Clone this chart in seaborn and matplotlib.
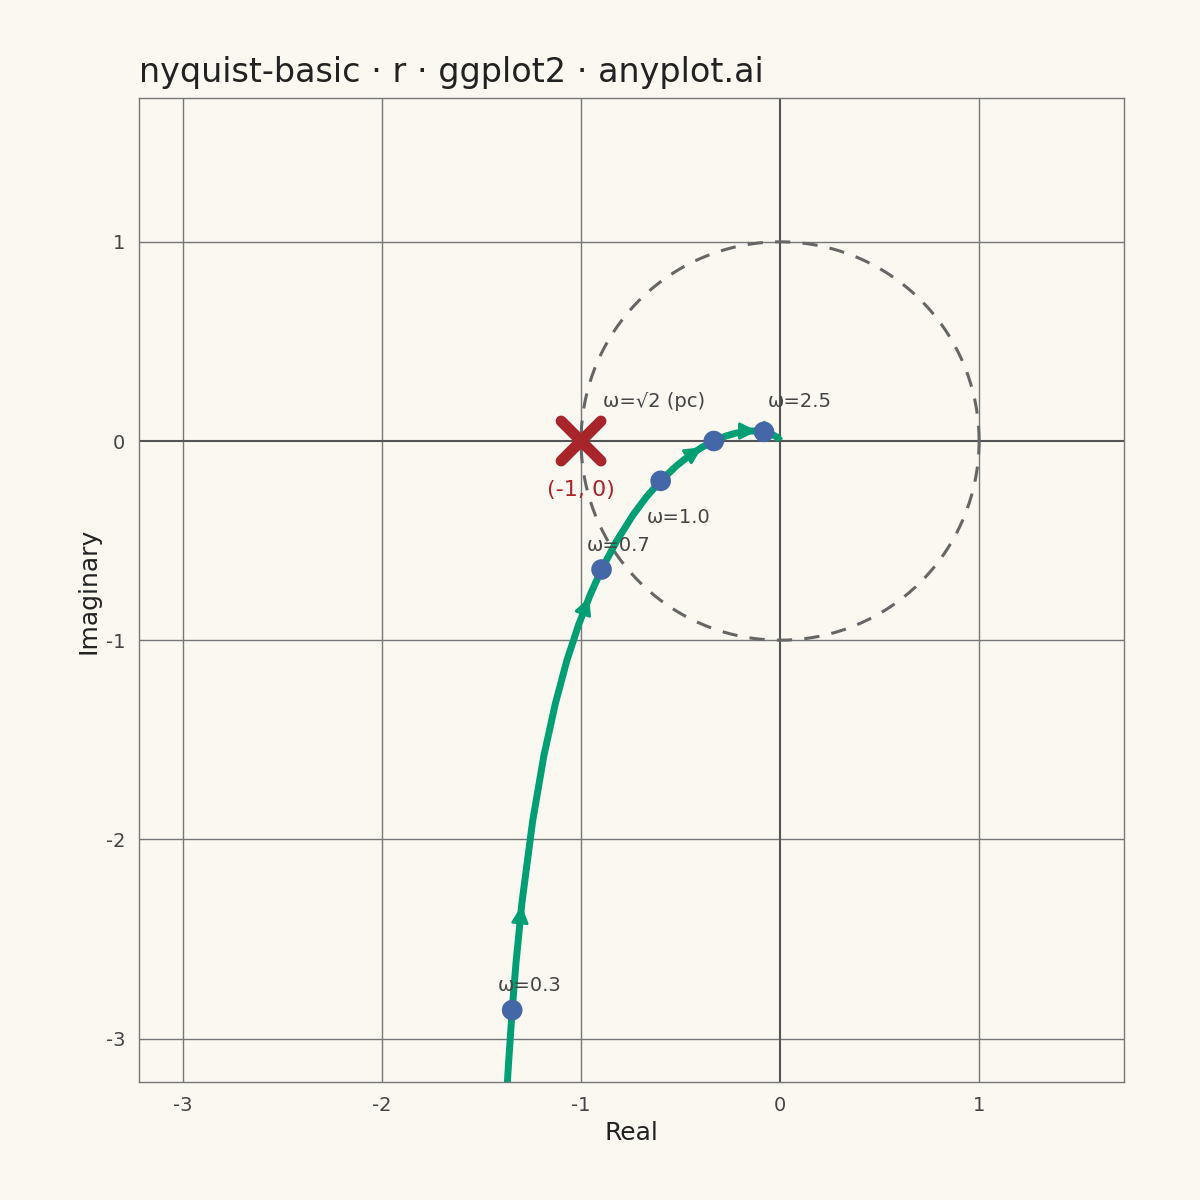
import numpy as np
import matplotlib.pyplot as plt
import seaborn as sns

# curve points (real, imaginary), low to high frequency
re_vals = [-1.373, -1.364, -1.346, -1.327, -1.297, -1.243, -1.187, -1.129, -1.071, -1.012,
           -0.954, -0.897, -0.820, -0.738, -0.671, -0.600, -0.521, -0.452, -0.392, -0.333,
           -0.275, -0.224, -0.150, -0.116, -0.081, -0.046, -0.018, -0.004, -0.001]
im_vals = [-3.267, -3.121, -2.857, -2.622, -2.318, -1.907, -1.581, -1.318, -1.101, -0.922,
           -0.772, -0.645, -0.500, -0.370, -0.280, -0.200, -0.125, -0.070, -0.031, 0.000,
           0.024, 0.039, 0.050, 0.050, 0.046, 0.036, 0.021, 0.008, 0.002]

# marked frequencies
mark_re = [-1.346, -0.897, -0.600, -0.333, -0.081]
mark_im = [-2.857, -0.645, -0.200, 0.000, 0.046]
mark_lab = ["ω=0.3", "ω=0.7", "ω=1.0", "ω=√2 (pc)", "ω=2.5"]
lab_xy = [(-1.42, -2.76), (-0.97, -0.55), (-0.67, -0.41), (-0.89, 0.17), (-0.06, 0.17)]

arrow_idx = [4, 10, 18, 23, 26]

bg = "#FAF8F1"
sns.set_theme(style="white")
plt.rcParams['font.family'] = ['DejaVu Sans']
plt.rcParams['axes.unicode_minus'] = False

fig = plt.figure(figsize=(12, 12), dpi=100, facecolor=bg)
ax = fig.add_axes([0.116, 0.098, 0.821, 0.82])
ax.set_facecolor(bg)

for v in [-3, -2, -1, 1]:
    ax.axvline(v, color="#777777", lw=1, zorder=0)
    ax.axhline(v, color="#777777", lw=1, zorder=0)
ax.axvline(0, color="#555555", lw=1.5, zorder=0)
ax.axhline(0, color="#555555", lw=1.5, zorder=0)

t = np.linspace(0, 2 * np.pi, 300)
ax.plot(np.cos(t), np.sin(t), ls=(0, (5, 4)), color="#666666", lw=2.2, zorder=1)

sns.lineplot(x=re_vals, y=im_vals, sort=False, ax=ax, color="#009E73", lw=5, zorder=2,
             solid_joinstyle="round", solid_capstyle="butt")
for i in arrow_idx:
    ax.annotate("", xy=(re_vals[i], im_vals[i]),
                xytext=(re_vals[i - 1] * 0.3 + re_vals[i] * 0.7,
                        im_vals[i - 1] * 0.3 + im_vals[i] * 0.7),
                arrowprops=dict(arrowstyle="-|>", color="#009E73", lw=2,
                                mutation_scale=26), zorder=3)

sns.scatterplot(x=mark_re, y=mark_im, ax=ax, color="#4467A8", s=220, edgecolor="none", zorder=4)
for lab, (x, y) in zip(mark_lab, lab_xy):
    ax.text(x, y, lab, fontsize=14, color="#444444", zorder=5)

for d in [1, -1]:
    ax.plot([-1.1, -0.9], [-0.1 * d, 0.1 * d], color="#A8262B", lw=8,
            solid_capstyle="round", zorder=5)
ax.text(-1, -0.245, "(-1, 0)", fontsize=16, color="#A8262B", ha="center", va="center")

ax.set_xlim(-3.22, 1.73)
ax.set_ylim(-3.22, 1.72)
ax.set_xticks([-3, -2, -1, 0, 1])
ax.set_yticks([-3, -2, -1, 0, 1])
ax.tick_params(labelsize=14, colors="#444444", length=0, pad=10)
for s in ax.spines.values():
    s.set_color("#777777")
    s.set_linewidth(1)
ax.set_xlabel("Real", fontsize=18, color="#222222")
ax.set_ylabel("Imaginary", fontsize=18, color="#222222")
ax.set_title("nyquist-basic · r · ggplot2 · anyplot.ai", fontsize=24, loc="left",
             color="#222222", pad=12)

fig.savefig("out.png", facecolor=bg)
